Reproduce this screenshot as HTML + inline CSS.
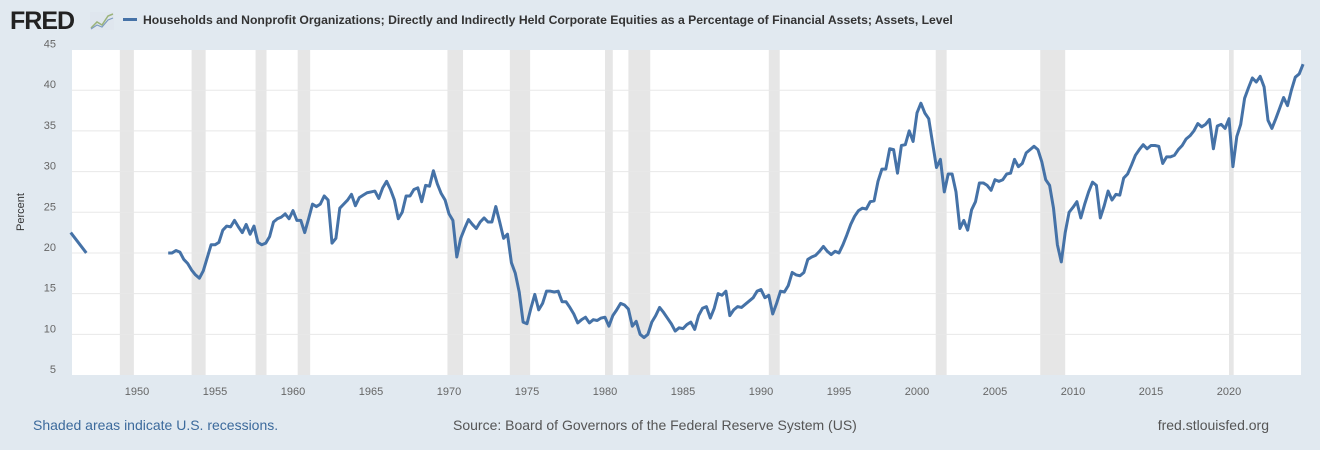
<!DOCTYPE html>
<html><head><meta charset="utf-8">
<style>
body{margin:0;width:1320px;height:450px;background:#e1e9f0;font-family:"Liberation Sans",sans-serif;overflow:hidden}
svg{position:absolute;left:0;top:0}
</style></head>
<body>
<svg id="chart" width="1320" height="450">
  <text x="10" y="29" font-size="25" font-weight="bold" fill="#222" letter-spacing="-1">FRED</text>
  <g>
    <rect x="90" y="12" width="24" height="18" fill="#dfe6ee"/>
    <polyline points="91,28 97,22 102,25 108,16 113,14" fill="none" stroke="#9bb37a" stroke-width="1.5"/>
    <polyline points="91,29 97,25 102,27 108,20 113,18" fill="none" stroke="#7e9cc0" stroke-width="1.2"/>
  </g>
  <line x1="123" y1="19.5" x2="137" y2="19.5" stroke="#4572a7" stroke-width="3"/>
  <text x="143" y="24" font-size="12.2" font-weight="bold" fill="#333">Households and Nonprofit Organizations; Directly and Indirectly Held Corporate Equities as a Percentage of Financial Assets; Assets, Level</text>
  <rect x="72" y="50" width="1229" height="325" fill="#ffffff"/>
  <g id="rec"></g><g id="grid"></g><g id="ylab"></g><g id="xlab"></g><g id="series"></g>
  <text x="24" y="212" font-size="11" fill="#333" transform="rotate(-90 24 212)" text-anchor="middle">Percent</text>
  <text x="33" y="430" font-size="14" fill="#3c6a9c">Shaded areas indicate U.S. recessions.</text>
  <text x="453" y="430" font-size="14" fill="#555">Source: Board of Governors of the Federal Reserve System (US)</text>
  <text x="1269" y="430" font-size="14" fill="#555" text-anchor="end">fred.stlouisfed.org</text>
</svg>
<script>
const yTicks=[5,10,15,20,25,30,35,40,45];
const xTicks=[1950,1955,1960,1965,1970,1975,1980,1985,1990,1995,2000,2005,2010,2015,2020];
const recStarts=[1948.9,1953.5,1957.6,1960.3,1969.9,1973.9,1980.0,1981.5,1990.5,2001.2,2007.9,2020.0];
const recEnds=[1949.8,1954.4,1958.3,1961.1,1970.9,1975.2,1980.5,1982.9,1991.2,2001.9,2009.5,2020.3];
const seg1Years=[1945.75,1946.75];
const seg1Values=[22.5,20.0];
const startYear=1952.0;
const values=[20.0,20.0,20.3,20.1,19.2,18.7,17.9,17.3,16.9,17.8,19.4,21.0,21.0,21.3,22.8,23.3,23.2,24.0,23.2,22.5,23.5,22.3,23.3,21.3,21.0,21.2,22.0,23.8,24.2,24.4,24.8,24.2,25.2,24.0,24.0,22.5,24.2,26.0,25.7,26.0,27.0,26.5,21.2,21.8,25.5,26.0,26.5,27.2,25.8,26.8,27.1,27.4,27.5,27.6,26.7,28.0,28.8,27.8,26.5,24.2,25.0,27.0,27.0,27.8,28.0,26.3,28.3,28.2,30.1,28.5,27.3,26.5,24.8,24.0,19.5,21.8,23.0,24.1,23.5,23.0,23.8,24.3,23.8,23.8,25.7,23.8,21.8,22.3,18.8,17.5,15.2,11.5,11.3,13.2,14.9,13.0,13.8,15.3,15.3,15.2,15.3,14.0,14.0,13.3,12.5,11.4,11.8,12.1,11.4,11.8,11.7,12.0,12.1,11.0,12.3,13.0,13.8,13.6,13.1,11.0,11.6,10.0,9.6,10.0,11.5,12.3,13.3,12.7,12.0,11.3,10.4,10.8,10.7,11.2,11.5,10.6,12.3,13.2,13.4,12.0,13.2,15.0,14.8,15.3,12.3,13.0,13.4,13.3,13.7,14.1,14.5,15.3,15.5,14.5,14.8,12.5,13.8,15.3,15.2,16.0,17.6,17.3,17.2,17.6,19.2,19.5,19.7,20.2,20.8,20.2,19.8,20.2,20.0,21.0,22.2,23.5,24.5,25.2,25.5,25.4,26.3,26.4,28.8,30.3,30.3,32.8,32.7,29.8,33.2,33.3,35.0,33.7,37.2,38.4,37.2,36.5,33.5,30.5,31.5,27.5,29.7,29.7,27.5,23.0,24.0,22.8,25.3,26.3,28.6,28.6,28.3,27.7,29.0,28.8,29.0,29.7,29.8,31.5,30.6,31.0,32.3,32.7,33.1,32.7,31.2,29.0,28.3,25.5,21.0,18.9,22.5,25.0,25.6,26.3,24.3,26.0,27.5,28.7,28.3,24.3,25.8,27.6,26.5,27.2,27.1,29.2,29.7,30.8,32.0,32.7,33.3,32.8,33.2,33.2,33.1,31.0,31.8,31.8,32.0,32.7,33.2,34.0,34.4,35.0,35.9,35.5,35.8,36.4,32.8,35.6,35.8,35.3,36.5,30.6,34.3,35.8,39.0,40.3,41.5,41.0,41.7,40.4,36.3,35.3,36.5,37.8,39.1,38.1,40.0,41.6,42.0,43.2];

const NS='http://www.w3.org/2000/svg';
const x=yr=>137+(yr-1950)*15.6;
const y=v=>375-(v-5)*8.1375;
function mk(tag,parent,attrs){const e=document.createElementNS(NS,tag);for(const k in attrs)e.setAttribute(k,attrs[k]);document.getElementById(parent).appendChild(e);return e;}

recStarts.forEach((s,i)=>{
  const r=mk('rect','rec',{x:x(s),y:50,width:x(recEnds[i])-x(s),height:325,fill:'#e6e6e6'});
  
  
});
yTicks.forEach(t=>{
  if(t>5&&t<45){const l=mk('line','grid',{x1:72,x2:1301,y1:y(t),y2:y(t),stroke:'#e8e8e8','stroke-width':1});
  
  }
  const tx=mk('text','ylab',{x:56,y:y(t)-2,'font-size':11,fill:'#666','text-anchor':'end'});
  tx.textContent=t;
  
  
});
xTicks.forEach(t=>{
  const tx=mk('text','xlab',{x:x(t),y:395,'font-size':11,fill:'#666','text-anchor':'middle'});
  tx.textContent=t;
  
  
});
const p1=mk('polyline','series',{points:seg1Years.map((yr,i)=>x(yr)+','+y(seg1Values[i])).join(' '),fill:'none',stroke:'#4572a7','stroke-width':3,'stroke-linejoin':'round'});


const p2=mk('polyline','series',{points:values.map((v,i)=>x(startYear+i*0.25)+','+y(v)).join(' '),fill:'none',stroke:'#4572a7','stroke-width':3,'stroke-linejoin':'round'});


</script>
</body></html>
